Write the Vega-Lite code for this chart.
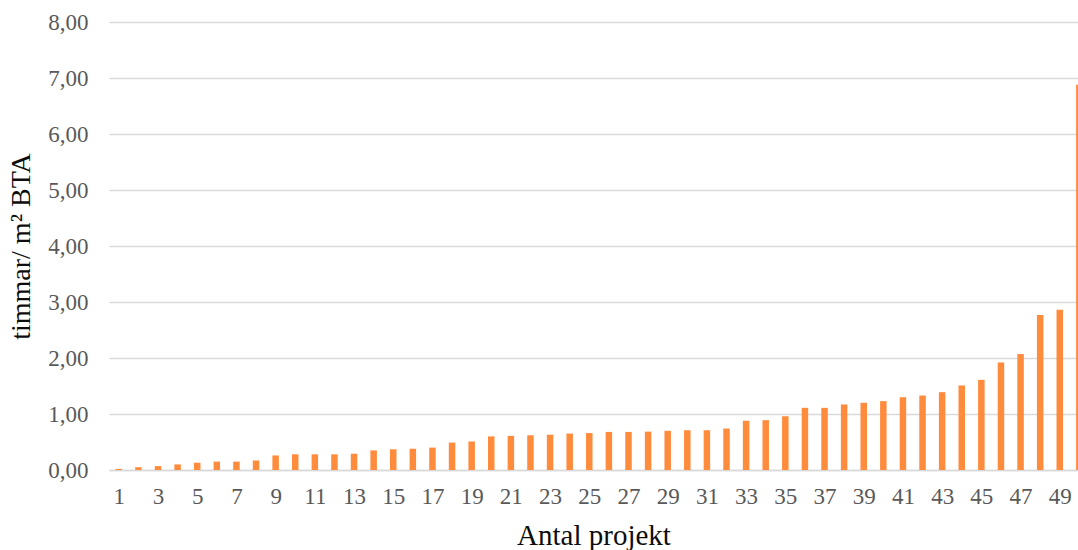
{
  "$schema": "https://vega.github.io/schema/vega-lite/v6.json",
  "width": 969,
  "height": 448,
  "autosize": {"type": "none"},
  "padding": {"left": 109, "top": 22, "right": 0, "bottom": 80},
  "background": "white",
  "config": {
    "view": {"stroke": null},
    "font": "Liberation Serif"
  },
  "data": {
    "values": [
      {"projekt": 1, "v": 0.02}, {"projekt": 2, "v": 0.05}, {"projekt": 3, "v": 0.07},
      {"projekt": 4, "v": 0.10}, {"projekt": 5, "v": 0.13}, {"projekt": 6, "v": 0.15},
      {"projekt": 7, "v": 0.15}, {"projekt": 8, "v": 0.17}, {"projekt": 9, "v": 0.26},
      {"projekt": 10, "v": 0.28}, {"projekt": 11, "v": 0.28}, {"projekt": 12, "v": 0.28},
      {"projekt": 13, "v": 0.29}, {"projekt": 14, "v": 0.35}, {"projekt": 15, "v": 0.37},
      {"projekt": 16, "v": 0.38}, {"projekt": 17, "v": 0.40}, {"projekt": 18, "v": 0.49},
      {"projekt": 19, "v": 0.51}, {"projekt": 20, "v": 0.60}, {"projekt": 21, "v": 0.61},
      {"projekt": 22, "v": 0.62}, {"projekt": 23, "v": 0.63}, {"projekt": 24, "v": 0.65},
      {"projekt": 25, "v": 0.66}, {"projekt": 26, "v": 0.68}, {"projekt": 27, "v": 0.68},
      {"projekt": 28, "v": 0.685}, {"projekt": 29, "v": 0.70}, {"projekt": 30, "v": 0.71},
      {"projekt": 31, "v": 0.71}, {"projekt": 32, "v": 0.74}, {"projekt": 33, "v": 0.88},
      {"projekt": 34, "v": 0.89}, {"projekt": 35, "v": 0.96}, {"projekt": 36, "v": 1.11},
      {"projekt": 37, "v": 1.11}, {"projekt": 38, "v": 1.17}, {"projekt": 39, "v": 1.20},
      {"projekt": 40, "v": 1.23}, {"projekt": 41, "v": 1.30}, {"projekt": 42, "v": 1.33},
      {"projekt": 43, "v": 1.39}, {"projekt": 44, "v": 1.51}, {"projekt": 45, "v": 1.61},
      {"projekt": 46, "v": 1.92}, {"projekt": 47, "v": 2.07}, {"projekt": 48, "v": 2.77},
      {"projekt": 49, "v": 2.86}, {"projekt": 50, "v": 6.88}
    ]
  },
  "mark": {"type": "bar", "color": "#ff8b3d", "size": 6.5, "clip": true},
  "encoding": {
    "x": {
      "field": "projekt",
      "type": "quantitative",
      "scale": {"domain": [0.5, 49.93], "nice": false, "zero": false, "padding": 0},
      "axis": {
        "title": "Antal projekt",
        "values": [1,3,5,7,9,11,13,15,17,19,21,23,25,27,29,31,33,35,37,39,41,43,45,47,49],
        "format": "d",
        "grid": false,
        "ticks": false,
        "domain": true,
        "domainColor": "#d9d9d9",
        "domainWidth": 1.5,
        "labelFont": "Liberation Serif",
        "labelFontSize": 23,
        "labelColor": "#595959",
        "labelPadding": 15,
        "labelFlush": false,
        "labelOverlap": false,
        "titleFont": "Liberation Serif",
        "titleFontSize": 29,
        "titleFontWeight": "normal",
        "titleColor": "#0d0d0d",
        "titlePadding": 13
      }
    },
    "y": {
      "field": "v",
      "type": "quantitative",
      "scale": {"domain": [0, 8], "nice": false},
      "axis": {
        "title": "timmar/ m² BTA",
        "values": [0,1,2,3,4,5,6,7,8],
        "labelExpr": "replace(format(datum.value, '.2f'), '.', ',')",
        "grid": true,
        "gridColor": "#d9d9d9",
        "gridWidth": 1.5,
        "ticks": false,
        "domain": false,
        "labelFont": "Liberation Serif",
        "labelFontSize": 23,
        "labelColor": "#595959",
        "labelPadding": 21,
        "titleFont": "Liberation Serif",
        "titleFontSize": 28,
        "titleFontWeight": "normal",
        "titleColor": "#0d0d0d",
        "titlePadding": 12
      }
    }
  }
}
